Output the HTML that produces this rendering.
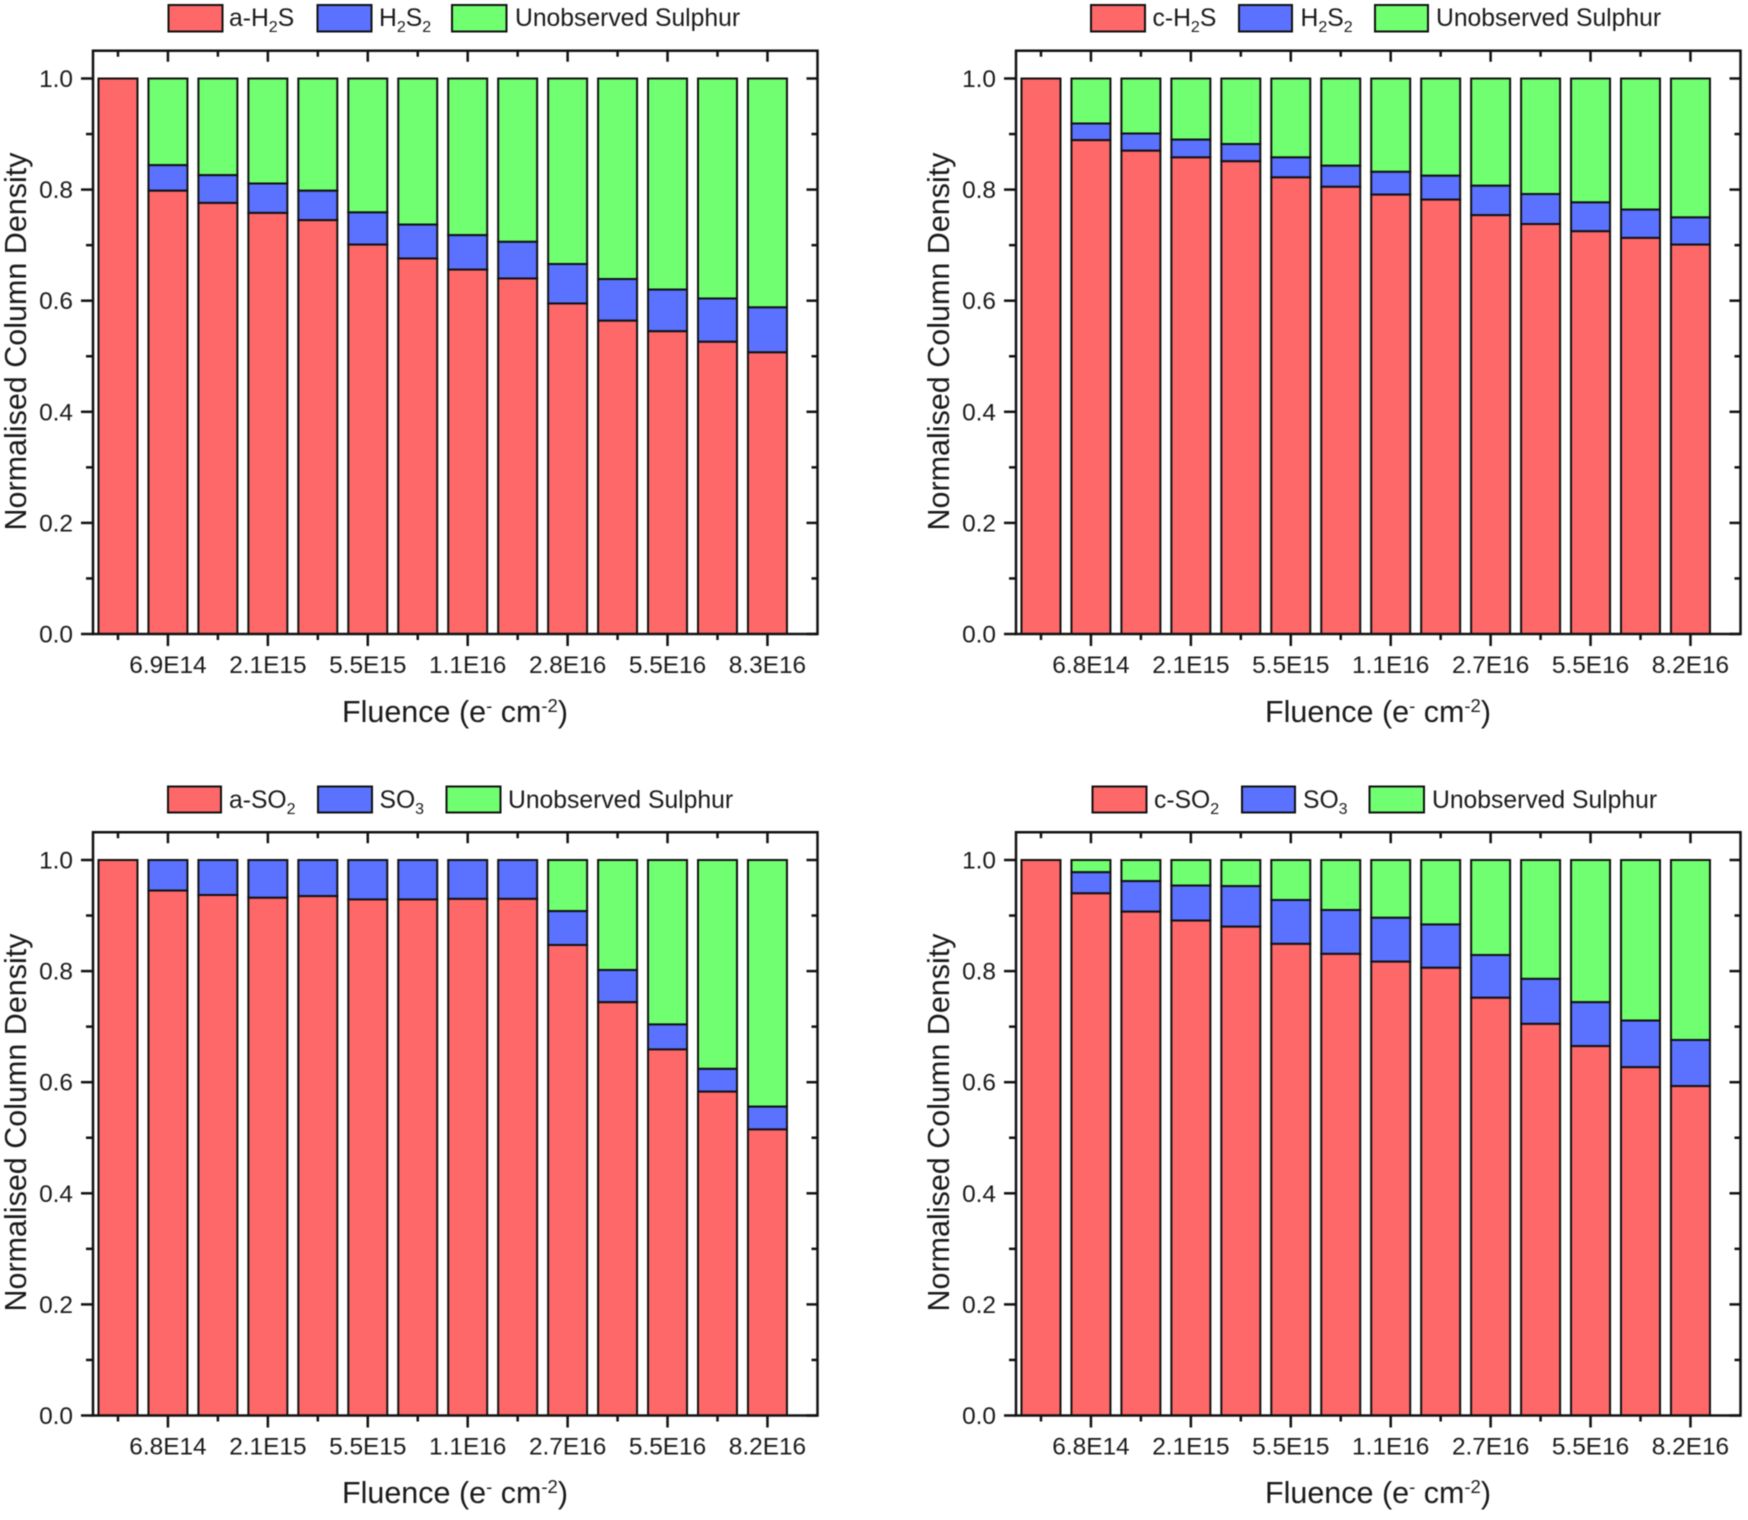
<!DOCTYPE html>
<html lang="en">
<head>
<meta charset="utf-8">
<title>Normalised column density vs fluence</title>
<style>
html,body{margin:0;padding:0;background:#fff;width:1748px;height:1520px;overflow:hidden}
svg{display:block;filter:blur(0.5px)}
text{font-family:"Liberation Sans",Arial,sans-serif;fill:#1a1a1a}
.tick{font-size:24.4px}
.axis{font-size:30.5px}
.leg{font-size:24.7px}
.sub{font-size:16px}
.sup{font-size:18.5px}
</style>
</head>
<body>
<svg id="figure" xmlns="http://www.w3.org/2000/svg" width="1748" height="1520" viewBox="0 0 1748 1520">
  <rect x="0" y="0" width="1748" height="1520" fill="#ffffff"/>

  <g>
    <rect x="168.500" y="5" width="54" height="26.500" fill="#FF6868" stroke="#111" stroke-width="2"/>
    <text class="leg" x="229" y="26">a-H<tspan class="sub" dy="6">2</tspan><tspan dy="-6">S</tspan></text>
    <rect x="317.500" y="5" width="54" height="26.500" fill="#5A72FF" stroke="#111" stroke-width="2"/>
    <text class="leg" x="379" y="26">H<tspan class="sub" dy="6">2</tspan><tspan dy="-6">S</tspan><tspan class="sub" dy="6">2</tspan></text>
    <rect x="452" y="5" width="54.500" height="26.500" fill="#70FF70" stroke="#111" stroke-width="2"/>
    <text class="leg" x="515" y="26">Unobserved Sulphur</text>
  </g>
  <g>
    <rect x="1091" y="5" width="54" height="26.500" fill="#FF6868" stroke="#111" stroke-width="2"/>
    <text class="leg" x="1152.500" y="26">c-H<tspan class="sub" dy="6">2</tspan><tspan dy="-6">S</tspan></text>
    <rect x="1239" y="5" width="53" height="26.500" fill="#5A72FF" stroke="#111" stroke-width="2"/>
    <text class="leg" x="1300.500" y="26">H<tspan class="sub" dy="6">2</tspan><tspan dy="-6">S</tspan><tspan class="sub" dy="6">2</tspan></text>
    <rect x="1375" y="5" width="53" height="26.500" fill="#70FF70" stroke="#111" stroke-width="2"/>
    <text class="leg" x="1436" y="26">Unobserved Sulphur</text>
  </g>
  <g>
    <rect x="168" y="786.500" width="53" height="26" fill="#FF6868" stroke="#111" stroke-width="2"/>
    <text class="leg" x="229" y="808">a-SO<tspan class="sub" dy="6">2</tspan></text>
    <rect x="318" y="786.500" width="54" height="26" fill="#5A72FF" stroke="#111" stroke-width="2"/>
    <text class="leg" x="379.500" y="808">SO<tspan class="sub" dy="6">3</tspan></text>
    <rect x="446.500" y="786.500" width="54" height="26" fill="#70FF70" stroke="#111" stroke-width="2"/>
    <text class="leg" x="508" y="808">Unobserved Sulphur</text>
  </g>
  <g>
    <rect x="1092.500" y="786.500" width="54" height="26" fill="#FF6868" stroke="#111" stroke-width="2"/>
    <text class="leg" x="1154" y="808">c-SO<tspan class="sub" dy="6">2</tspan></text>
    <rect x="1242" y="786.500" width="53" height="26" fill="#5A72FF" stroke="#111" stroke-width="2"/>
    <text class="leg" x="1303" y="808">SO<tspan class="sub" dy="6">3</tspan></text>
    <rect x="1369.500" y="786.500" width="54.500" height="26" fill="#70FF70" stroke="#111" stroke-width="2"/>
    <text class="leg" x="1432" y="808">Unobserved Sulphur</text>
  </g>

  <text class="axis" text-anchor="middle" transform="translate(26,341.500) rotate(-90)">Normalised Column Density</text>
  <text class="axis" text-anchor="middle" transform="translate(949,341.500) rotate(-90)">Normalised Column Density</text>
  <text class="axis" text-anchor="middle" transform="translate(26,1122.500) rotate(-90)">Normalised Column Density</text>
  <text class="axis" text-anchor="middle" transform="translate(949,1122.500) rotate(-90)">Normalised Column Density</text>

  <text class="axis" text-anchor="middle" x="455" y="722">Fluence (e<tspan class="sup" dy="-10">-</tspan><tspan dy="10"> cm</tspan><tspan class="sup" dy="-10">-2</tspan><tspan dy="10">)</tspan></text>
  <text class="axis" text-anchor="middle" x="1378" y="722">Fluence (e<tspan class="sup" dy="-10">-</tspan><tspan dy="10"> cm</tspan><tspan class="sup" dy="-10">-2</tspan><tspan dy="10">)</tspan></text>
  <text class="axis" text-anchor="middle" x="455" y="1503">Fluence (e<tspan class="sup" dy="-10">-</tspan><tspan dy="10"> cm</tspan><tspan class="sup" dy="-10">-2</tspan><tspan dy="10">)</tspan></text>
  <text class="axis" text-anchor="middle" x="1378" y="1503">Fluence (e<tspan class="sup" dy="-10">-</tspan><tspan dy="10"> cm</tspan><tspan class="sup" dy="-10">-2</tspan><tspan dy="10">)</tspan></text>

  <g id="panel-a-h2s"></g>
  <g id="panel-c-h2s"></g>
  <g id="panel-a-so2"></g>
  <g id="panel-c-so2"></g>
</svg>

<script>
// Shared axis data
const categories = [1, 2, 3, 4, 5, 6, 7, 8, 9, 10, 11, 12, 13, 14];
const yMajorTicks = [0, 0.2, 0.4, 0.6, 0.8, 1.0];
const yMinorTicks = [0.1, 0.3, 0.5, 0.7, 0.9];
const yTickLabels = ['0.0', '0.2', '0.4', '0.6', '0.8', '1.0'];
const xMajorTicks = [2, 4, 6, 8, 10, 12, 14];
const xMinorTicks = [1, 3, 5, 7, 9, 11, 13];

// a-H2S panel
const aH2sLabels = ['6.9E14', '2.1E15', '5.5E15', '1.1E16', '2.8E16', '5.5E16', '8.3E16'];
const aH2sMain = [1, 0.798, 0.776, 0.758, 0.745, 0.701, 0.676, 0.656, 0.640, 0.595, 0.564, 0.545, 0.526, 0.507];
const aH2sProduct = [0, 0.046, 0.050, 0.053, 0.053, 0.058, 0.061, 0.062, 0.066, 0.071, 0.075, 0.075, 0.078, 0.081];
const aH2sUnobserved = [0, 0.156, 0.174, 0.189, 0.202, 0.241, 0.263, 0.282, 0.294, 0.334, 0.361, 0.380, 0.396, 0.412];

// c-H2S panel
const cH2sLabels = ['6.8E14', '2.1E15', '5.5E15', '1.1E16', '2.7E16', '5.5E16', '8.2E16'];
const cH2sMain = [1, 0.889, 0.870, 0.858, 0.851, 0.822, 0.805, 0.791, 0.782, 0.754, 0.738, 0.725, 0.713, 0.701];
const cH2sProduct = [0, 0.030, 0.031, 0.032, 0.031, 0.036, 0.038, 0.041, 0.043, 0.053, 0.054, 0.052, 0.051, 0.049];
const cH2sUnobserved = [0, 0.081, 0.099, 0.110, 0.118, 0.142, 0.157, 0.168, 0.175, 0.193, 0.208, 0.223, 0.236, 0.250];

// a-SO2 panel
const aSo2Labels = ['6.8E14', '2.1E15', '5.5E15', '1.1E16', '2.7E16', '5.5E16', '8.2E16'];
const aSo2Main = [1, 0.945, 0.937, 0.932, 0.935, 0.929, 0.929, 0.930, 0.930, 0.847, 0.744, 0.659, 0.583, 0.515];
const aSo2Product = [0, 0.055, 0.063, 0.068, 0.065, 0.071, 0.071, 0.070, 0.070, 0.061, 0.058, 0.045, 0.041, 0.041];
const aSo2Unobserved = [0, 0, 0, 0, 0, 0, 0, 0, 0, 0.092, 0.198, 0.296, 0.376, 0.444];

// c-SO2 panel
const cSo2Labels = ['6.8E14', '2.1E15', '5.5E15', '1.1E16', '2.7E16', '5.5E16', '8.2E16'];
const cSo2Main = [1, 0.940, 0.907, 0.891, 0.880, 0.849, 0.831, 0.817, 0.806, 0.752, 0.705, 0.665, 0.627, 0.593];
const cSo2Product = [0, 0.038, 0.055, 0.063, 0.073, 0.079, 0.079, 0.079, 0.078, 0.077, 0.081, 0.079, 0.084, 0.083];
const cSo2Unobserved = [0, 0.022, 0.038, 0.046, 0.047, 0.072, 0.090, 0.104, 0.116, 0.171, 0.214, 0.256, 0.289, 0.324];

const SVG_NS = 'http://www.w3.org/2000/svg';
const AXIS_COLOR = '#111111';

function line(parent, x1, y1, x2, y2, width) {
  const el = document.createElementNS(SVG_NS, 'line');
  
  
  el.setAttribute('x1', x1);
  el.setAttribute('y1', y1);
  el.setAttribute('x2', x2);
  el.setAttribute('y2', y2);
  el.setAttribute('stroke', AXIS_COLOR);
  el.setAttribute('stroke-width', width);
  parent.appendChild(el);
}

function label(parent, x, y, anchor, str) {
  const el = document.createElementNS(SVG_NS, 'text');
  
  
  el.setAttribute('class', 'tick');
  el.setAttribute('x', x);
  el.setAttribute('y', y);
  el.setAttribute('text-anchor', anchor);
  el.textContent = str;
  parent.appendChild(el);
}

function segment(parent, x, yTop, width, height, fill, name) {
  const el = document.createElementNS(SVG_NS, 'rect');
  
  
  el.setAttribute('x', x);
  el.setAttribute('y', yTop);
  el.setAttribute('width', width);
  el.setAttribute('height', height);
  el.setAttribute('fill', fill);
  el.setAttribute('stroke', AXIS_COLOR);
  el.setAttribute('stroke-width', 2);
  parent.appendChild(el);
}

function drawPanel(id, left, y0, xLabels, main, product, unobserved) {
  const g = document.getElementById(id);
  const plotWidth = 724.5;
  const right = left + plotWidth;
  const unitY = 555.5;
  const unitX = 49.96;
  const top = y0 - 1.05 * unitY;
  const xScale = v => left + (v - 0.5) * unitX;
  const yScale = v => y0 - v * unitY;
  const barWidth = 39;

  categories.forEach((cat, i) => {
    const bx = xScale(cat) - barWidth / 2;
    const mainTop = main[i];
    const productTop = mainTop + product[i];
    const unobservedTop = productTop + unobserved[i];
    if (unobserved[i] > 0) {
      segment(g, bx, yScale(unobservedTop), barWidth, yScale(productTop) - yScale(unobservedTop), '#70FF70', 'bar-unobserved-' + cat);
    }
    if (product[i] > 0) {
      segment(g, bx, yScale(productTop), barWidth, yScale(mainTop) - yScale(productTop), '#5A72FF', 'bar-product-' + cat);
    }
    segment(g, bx, yScale(mainTop), barWidth, yScale(0) - yScale(mainTop), '#FF6868', 'bar-main-' + cat);
  });

  const frame = document.createElementNS(SVG_NS, 'rect');
  
  
  frame.setAttribute('x', left);
  frame.setAttribute('y', top);
  frame.setAttribute('width', plotWidth);
  frame.setAttribute('height', y0 - top);
  frame.setAttribute('fill', 'none');
  frame.setAttribute('stroke', AXIS_COLOR);
  frame.setAttribute('stroke-width', 2.5);
  g.appendChild(frame);

  yMajorTicks.forEach((v, i) => {
    line(g, left - 12, yScale(v), left, yScale(v), 2.5);
    line(g, right - 11, yScale(v), right, yScale(v), 2.5);
    label(g, left - 20, yScale(v) + 8.5, 'end', yTickLabels[i]);
  });
  yMinorTicks.forEach(v => {
    line(g, left - 7, yScale(v), left, yScale(v), 2.5);
    line(g, right - 6, yScale(v), right, yScale(v), 2.5);
  });
  xMajorTicks.forEach((v, i) => {
    line(g, xScale(v), y0, xScale(v), y0 + 12, 2.5);
    line(g, xScale(v), top, xScale(v), top + 11, 2.5);
    label(g, xScale(v), y0 + 39, 'middle', xLabels[i]);
  });
  xMinorTicks.forEach(v => {
    line(g, xScale(v), y0, xScale(v), y0 + 6, 2.5);
    line(g, xScale(v), top, xScale(v), top + 6, 2.5);
  });
}

drawPanel('panel-a-h2s', 93, 634, aH2sLabels, aH2sMain, aH2sProduct, aH2sUnobserved);
drawPanel('panel-c-h2s', 1016, 634, cH2sLabels, cH2sMain, cH2sProduct, cH2sUnobserved);
drawPanel('panel-a-so2', 93, 1415.5, aSo2Labels, aSo2Main, aSo2Product, aSo2Unobserved);
drawPanel('panel-c-so2', 1016, 1415.5, cSo2Labels, cSo2Main, cSo2Product, cSo2Unobserved);
</script>
</body>
</html>
